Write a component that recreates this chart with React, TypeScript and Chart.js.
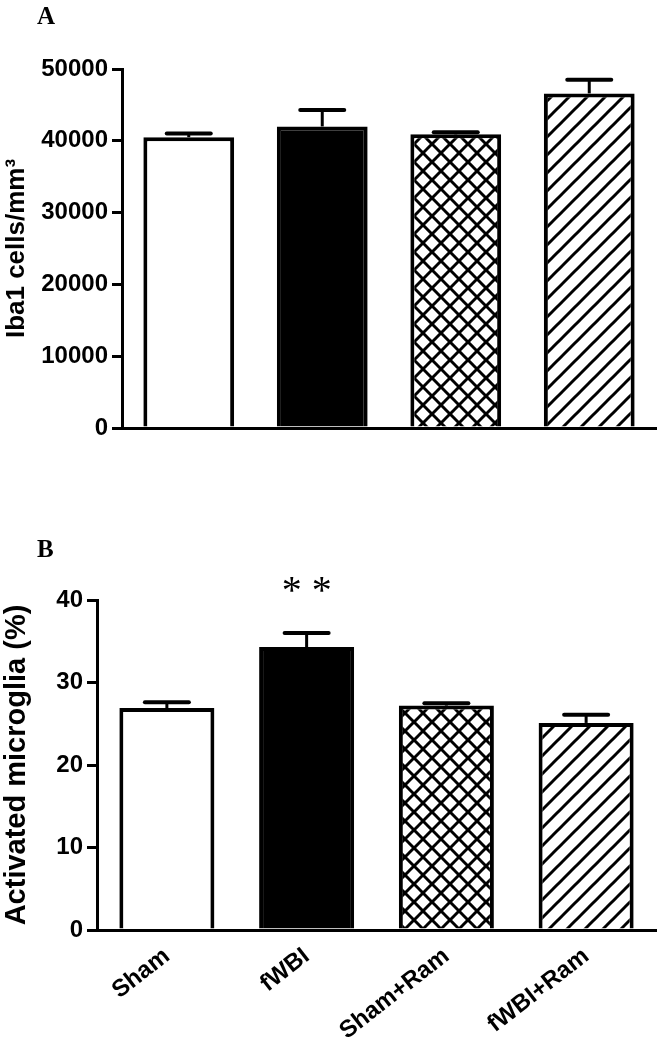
import React, { useEffect, useRef } from "react";
import { Chart, registerables } from "chart.js";

Chart.register(...registerables);

// ---- data ----
const groups = ["Sham", "fWBI", "Sham+Ram", "fWBI+Ram"];
const ibaMeans = [40500, 42000, 40900, 46600];
const ibaSem = [500, 2300, 300, 1900];
const ibaTicks = [0, 10000, 20000, 30000, 40000, 50000];
const microMeans = [26.9, 34.3, 27.2, 25.1];
const microSem = [0.7, 1.7, 0.3, 1.0];
const microTicks = [0, 10, 20, 30, 40];
const significance = ["", "**", "", ""];

const SANS = '"Liberation Sans", Arial, sans-serif';
const SERIF = '"Liberation Serif", "Times New Roman", serif';

function makeTile(kind: "cross" | "hatch"): CanvasPattern | string {
  const d = 18;
  const tile = document.createElement("canvas");
  tile.width = d;
  tile.height = d;
  const c = tile.getContext("2d");
  if (!c) return "#fff";
  c.fillStyle = "#fff";
  c.fillRect(0, 0, d, d);
  c.strokeStyle = "#000";
  c.lineWidth = 3;
  for (let k = -1; k <= 1; k++) {
    // "/" lines
    c.beginPath();
    c.moveTo(k * d - 2, d + 2);
    c.lineTo(k * d + d + 2, -2);
    c.stroke();
    if (kind === "cross") {
      c.beginPath();
      c.moveTo(k * d - 2, -2);
      c.lineTo(k * d + d + 2, d + 2);
      c.stroke();
    }
  }
  const ctx = document.createElement("canvas").getContext("2d");
  return (ctx && ctx.createPattern(tile, "repeat")) || "#fff";
}

function errorPlugin(sems: number[], marks?: string[]) {
  return {
    id: "errorbars",
    afterDatasetsDraw(chart: any) {
      const meta = chart.getDatasetMeta(0);
      const ys = chart.scales.y;
      const ctx = chart.ctx;
      const vals = chart.data.datasets[0].data as number[];
      ctx.save();
      ctx.strokeStyle = "#000";
      meta.data.forEach((el: any, i: number) => {
        const top = ys.getPixelForValue(vals[i] + sems[i]);
        ctx.lineCap = "butt";
        ctx.lineWidth = 3;
        ctx.beginPath();
        ctx.moveTo(el.x, el.y);
        ctx.lineTo(el.x, top);
        ctx.stroke();
        ctx.lineCap = "round";
        ctx.lineWidth = 4;
        ctx.beginPath();
        ctx.moveTo(el.x - 22, top);
        ctx.lineTo(el.x + 22, top);
        ctx.stroke();
        if (marks && marks[i]) {
          ctx.font = `40px ${SERIF}`;
          ctx.fillStyle = "#000";
          ctx.textAlign = "center";
          ctx.textBaseline = "alphabetic";
          ctx.fillText(marks[i].split("").join(" "), el.x, top - 30);
        }
      });
      ctx.restore();
    },
  };
}

function barConfig(
  means: number[],
  sems: number[],
  ticks: number[],
  fills: any[],
  opts: {
    padTop: number;
    xHeight: number;
    yWidth: number;
    title: string;
    titleSize: number;
    titlePad: number;
    showX: boolean;
    marks?: string[];
  }
): any {
  return {
    type: "bar",
    data: {
      labels: groups,
      datasets: [
        {
          data: means,
          backgroundColor: fills,
          borderColor: "#000",
          borderWidth: 4,
          borderSkipped: "start",
          barPercentage: 0.68,
          categoryPercentage: 1,
        },
      ],
    },
    options: {
      animation: false,
      responsive: false,
      maintainAspectRatio: false,
      layout: { padding: { top: opts.padTop, right: 2, left: 0, bottom: 0 } },
      plugins: {
        legend: { display: false },
        tooltip: { enabled: false },
        title: { display: false },
      },
      scales: {
        x: {
          grid: { display: false, drawTicks: false },
          border: { display: true, color: "#000", width: 3 },
          ticks: {
            display: opts.showX,
            color: "#000",
            font: { family: SANS, size: 24, weight: "bold" },
            minRotation: 38,
            maxRotation: 38,
            padding: 12,
          },
          afterFit: (s: any) => {
            s.height = opts.xHeight;
          },
        },
        y: {
          min: 0,
          max: ticks[ticks.length - 1],
          afterBuildTicks: (s: any) => {
            s.ticks = ticks.map((v) => ({ value: v }));
          },
          ticks: {
            callback: (v: any) => String(v),
            color: "#000",
            font: { family: SANS, size: 24, weight: "bold" },
            padding: 4,
          },
          grid: {
            drawOnChartArea: false,
            drawTicks: true,
            tickLength: 10,
            color: "#000",
            lineWidth: 3,
          },
          border: { display: true, color: "#000", width: 3 },
          title: {
            display: true,
            text: opts.title,
            color: "#000",
            font: { family: SANS, size: opts.titleSize, weight: "bold" },
            padding: { top: opts.titlePad, bottom: 0 },
          },
          afterFit: (s: any) => {
            s.width = opts.yWidth;
          },
        },
      },
    },
    plugins: [errorPlugin(sems, opts.marks)],
  };
}

export default function App() {
  const aRef = useRef<HTMLCanvasElement>(null);
  const bRef = useRef<HTMLCanvasElement>(null);

  useEffect(() => {
    const fills = ["#ffffff", "#000000", makeTile("cross"), makeTile("hatch")];
    const a = new Chart(
      aRef.current as HTMLCanvasElement,
      barConfig(ibaMeans, ibaSem, ibaTicks, fills, {
        padTop: 69,
        xHeight: 42,
        yWidth: 122,
        title: "Iba1 cells/mm³",
        titleSize: 26,
        titlePad: 1,
        showX: false,
      })
    );
    const b = new Chart(
      bRef.current as HTMLCanvasElement,
      barConfig(microMeans, microSem, microTicks, fills, {
        padTop: 130,
        xHeight: 120,
        yWidth: 97,
        title: "Activated microglia (%)",
        titleSize: 29,
        titlePad: 0,
        showX: true,
        marks: significance,
      })
    );
    return () => {
      a.destroy();
      b.destroy();
    };
  }, []);

  const panelLabel: React.CSSProperties = {
    position: "absolute",
    left: 37,
    font: `bold 25px ${SERIF}`,
    lineHeight: 1,
    color: "#000",
  };

  return (
    <div
      style={{
        position: "absolute",
        left: 0,
        top: 0,
        width: 658,
        height: 1050,
        background: "#fff",
        overflow: "hidden",
      }}
    >
      <canvas
        ref={aRef}
        width={658}
        height={470}
        style={{ position: "absolute", left: 0, top: 0 }}
      />
      <canvas
        ref={bRef}
        width={658}
        height={580}
        style={{ position: "absolute", left: 0, top: 470 }}
      />
      <div style={{ ...panelLabel, top: 3 }}>A</div>
      <div style={{ ...panelLabel, top: 536 }}>B</div>
    </div>
  );
}
